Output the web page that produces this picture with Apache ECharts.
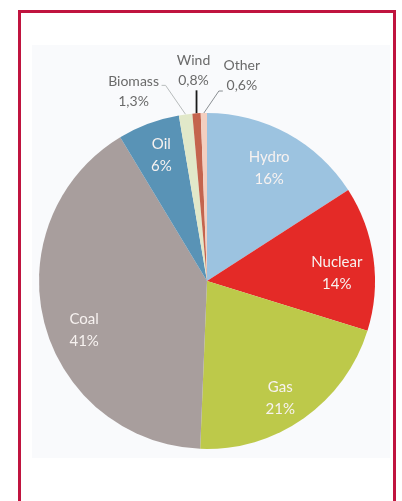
<!DOCTYPE html>
<html><head><meta charset="utf-8">
<script src="https://cdn.jsdelivr.net/npm/echarts@6/dist/echarts.min.js"></script>
<style>html,body{margin:0;padding:0;background:#fff}#c{width:402px;height:501px}</style>
</head><body><div id="c"></div>
<script>
const categories = ['Hydro','Nuclear','Gas','Coal','Oil','Biomass','Wind','Other'];
const values = [16, 14, 21, 41, 6, 1.3, 0.8, 0.6];
const valueLabels = ['16%','14%','21%','41%','6%','1,3%','0,8%','0,6%'];
const colors = ['#9cc3e0','#e42a27','#bdc94a','#a89e9d','#5993b6','#e1e8c9','#c4644e','#f3cfc0'];
const smallSlices = ['Biomass','Wind','Other'];

const chart = echarts.init(document.getElementById('c'));
const CX = 207, CY = 281, R = 168;
const lineColors = {Biomass:'#b8bcbc', Wind:'#1a1a1a', Other:'#8a8f93'};
// label nudges (style only)
const innerNudge = {Hydro:[-2,5], Nuclear:[-3,10], Gas:[-4,8], Coal:[7,16], Oil:[1,0]};

const mainData = categories.map((n,i)=>({
  name:n, value:values[i], itemStyle:{color:colors[i]},
  label:{show: smallSlices.includes(n)},
  labelLine:{show: smallSlices.includes(n), lineStyle:{color: lineColors[n] || '#999', width: n==='Wind'?1.8:1}}
}));
const innerData = categories.map((n,i)=>({
  name:n, value:values[i], itemStyle:{color:'rgba(0,0,0,0)'},
  label:{show: !smallSlices.includes(n)}
}));

chart.setOption({
  animation:false,
  graphic:[
    {type:'rect', shape:{x:19.5,y:11.5,width:375,height:520}, style:{fill:'#fff', stroke:'#c0143f', lineWidth:3}, z:-10},
    {type:'rect', shape:{x:32,y:45,width:358,height:413}, style:{fill:'#f9fafc'}, z:-9}
  ],
  series:[
    {
      type:'pie', center:[CX,CY], radius:R, startAngle:90, clockwise:true,
      avoidLabelOverlap:false, silent:true,
      itemStyle:{borderWidth:0},
      label:{position:'outside', color:'#6a6a6a', fontFamily:'Lato', fontSize:14, lineHeight:20,
        formatter:p=>p.name+'\n'+valueLabels[p.dataIndex]},
      labelLine:{length:22, length2:0, smooth:false},
      labelLayout:function(p){
        const n = categories[p.dataIndex];
        if(!smallSlices.includes(n) || !p.labelLinePoints) return {};
        const a = p.labelLinePoints[0];
        if(n==='Biomass') return {x:a[0]-52, y:a[1]-23, align:'center', verticalAlign:'middle',
          labelLinePoints:[[a[0],a[1]],[a[0]-20,a[1]-29],[a[0]-24,a[1]-29]]};
        if(n==='Wind') return {x:a[0]-3, y:a[1]-43, align:'center', verticalAlign:'middle',
          labelLinePoints:[[a[0],a[1]],[a[0],a[1]-23]]};
        if(n==='Other') return {x:a[0]+38, y:a[1]-38, align:'center', verticalAlign:'middle',
          labelLinePoints:[[a[0],a[1]],[a[0]+15,a[1]-22],[a[0]+19,a[1]-22]]};
        return {};
      },
      data: mainData
    },
    {
      type:'pie', center:[CX,CY], radius:[R*0.56,R], startAngle:90, clockwise:true,
      silent:true, avoidLabelOverlap:false, z:3,
      label:{position:'inside', color:'#f7f2f0', fontFamily:'Lato', fontSize:15, lineHeight:22,
        formatter:p=>p.name+'\n'+valueLabels[p.dataIndex]},
      labelLine:{show:false},
      labelLayout:function(p){
        const d = innerNudge[categories[p.dataIndex]];
        return d ? {dx:d[0], dy:d[1]} : {};
      },
      itemStyle:{borderWidth:0},
      data: innerData
    }
  ]
});
</script></body></html>
